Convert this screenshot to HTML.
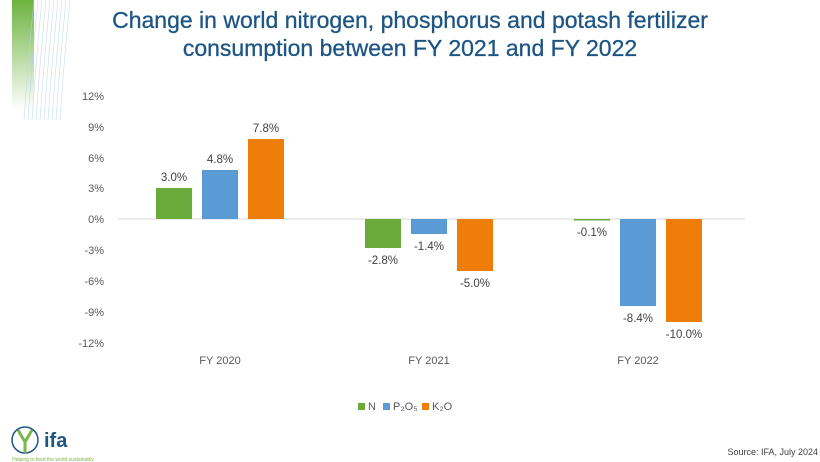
<!DOCTYPE html>
<html><head><meta charset="utf-8"><style>
body{margin:0;width:820px;height:462px;background:#fff;overflow:hidden;font-family:"Liberation Sans",sans-serif;position:relative}
.t{position:absolute;left:0;width:820px;text-align:center;color:#1d5584;font-size:23px;line-height:27px;-webkit-text-stroke:0.3px #1d5584}
</style></head><body>
<div style="position:absolute;left:12px;top:0;width:22px;height:110px;background:linear-gradient(#6cb33f,rgba(108,179,63,0))"></div>
<svg style="position:absolute;left:14px;top:0" width="60" height="120">
<g stroke="#b9d3e8" stroke-width="0.6" fill="none" opacity="0.8">
<path d="M20 0 Q14 60 10 120"/><path d="M24 0 Q18 60 14 120"/><path d="M28 0 Q22 60 18 120"/><path d="M32 0 Q26 60 22 120"/><path d="M36 0 Q30 60 26 120"/><path d="M40 0 Q34 60 30 120"/><path d="M44 0 Q38 60 34 120"/><path d="M48 0 Q42 60 38 120"/><path d="M52 0 Q46 60 42 120"/><path d="M56 0 Q50 60 46 120"/>
</g></svg>
<div class="t" style="top:7px">Change in world nitrogen, phosphorus and potash fertilizer</div>
<div class="t" style="top:35px">consumption between FY 2021 and FY 2022</div>
<svg style="position:absolute;left:0;top:0" width="820" height="462" font-family="Liberation Sans, sans-serif" font-size="11" fill="#595959">
<g text-anchor="end">
<text x="104" y="100">12%</text><text x="104" y="131">9%</text><text x="104" y="162">6%</text><text x="104" y="192">3%</text><text x="104" y="223">0%</text><text x="104" y="254">-3%</text><text x="104" y="285">-6%</text><text x="104" y="316">-9%</text><text x="104" y="347">-12%</text>
</g>
<line x1="118" y1="219" x2="745" y2="219" stroke="#d9d9d9"/>
<g fill="#6aaa3a"><rect x="156" y="188" width="36" height="31"/><rect x="365" y="219" width="36" height="29"/><rect x="574" y="219" width="36" height="1.5"/></g>
<g fill="#5b9bd5"><rect x="202" y="170" width="36" height="49"/><rect x="411" y="219" width="36" height="15"/><rect x="620" y="219" width="36" height="87"/></g>
<g fill="#ee7d0a"><rect x="248" y="139" width="36" height="80"/><rect x="457" y="219" width="36" height="52"/><rect x="666" y="219" width="36" height="103"/></g>
<g text-anchor="middle" font-size="11.5" fill="#404040">
<text x="174" y="181">3.0%</text><text x="220" y="163">4.8%</text><text x="266" y="132">7.8%</text>
<text x="383" y="264">-2.8%</text><text x="429" y="250">-1.4%</text><text x="475" y="287">-5.0%</text>
<text x="592" y="236">-0.1%</text><text x="638" y="322">-8.4%</text><text x="684" y="338">-10.0%</text>
<text x="220" y="364" font-size="11" fill="#595959">FY 2020</text><text x="429" y="364" font-size="11" fill="#595959">FY 2021</text><text x="638" y="364" font-size="11" fill="#595959">FY 2022</text>
</g>
<rect x="358" y="403" width="7" height="7" fill="#6aaa3a"/><text x="368" y="410">N</text>
<rect x="383" y="403" width="7" height="7" fill="#5b9bd5"/><text x="393" y="410">P₂O₅</text>
<rect x="422" y="403" width="7" height="7" fill="#ee7d0a"/><text x="432" y="410">K₂O</text>
<text x="818" y="455" text-anchor="end" font-size="9" fill="#404040">Source: IFA, July 2024</text>
<circle cx="25" cy="440" r="13" fill="none" stroke="#1d5584" stroke-width="1.5"/>
<path d="M18 430 L25 442 L32 430 M25 442 L25 453" stroke="#7ab648" stroke-width="3" fill="none"/>
<text x="44" y="447" font-size="20" font-weight="bold" fill="#1d5584">ifa</text>
<text x="12" y="461" font-size="5" fill="#7ab648">Helping to feed the world sustainably</text>
</svg>
</body></html>
